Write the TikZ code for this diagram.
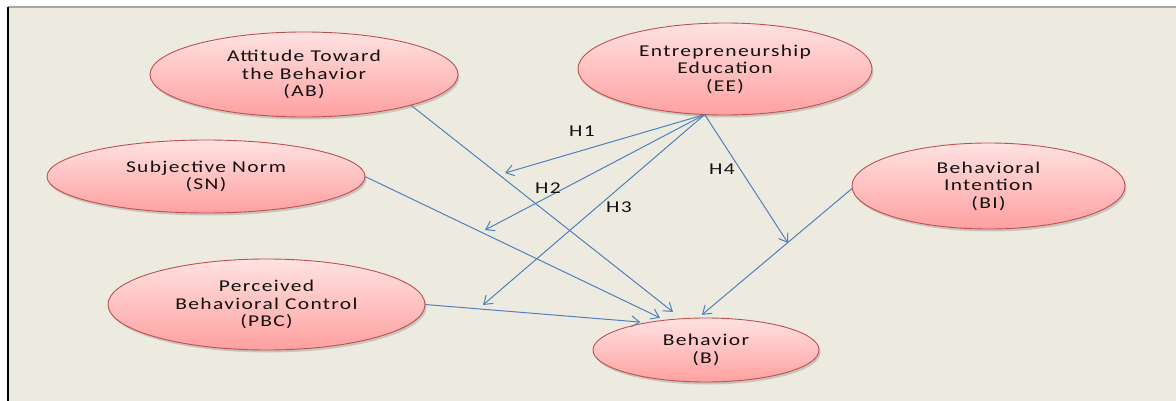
\documentclass[tikz,border=0pt]{standalone}
\usepackage{fontspec}
\setmainfont{Carlito}[FakeStretch=1.3, LetterSpace=8]
\usetikzlibrary{shapes.geometric,shadows,arrows.meta}
\definecolor{bgbeige}{HTML}{EDEBE0}
\definecolor{pinktop}{HTML}{FFE2E2}
\definecolor{pinkbot}{HTML}{FFA0A0}
\definecolor{ellborder}{HTML}{C0504D}
\definecolor{arrblue}{HTML}{4F81BD}
\definecolor{txt}{HTML}{111111}
\tikzset{
  ell/.style={ellipse, draw=ellborder, line width=0.9pt, top color=pinktop, bottom color=pinkbot,
    drop shadow={shadow xshift=1.5pt, shadow yshift=-2.5pt, opacity=0.35},
    inner sep=0pt, outer sep=0pt, align=center, text=txt, font=\fontsize{16.5}{17.5}\selectfont},
  arr/.style={draw=arrblue, line width=1pt, -{Straight Barb[length=8pt,width=11pt]}},
  lab/.style={font=\fontsize{16.5}{17.5}\selectfont, text=txt, inner sep=0pt}
}
\begin{document}
\begin{tikzpicture}[x=1pt,y=-1pt]
\useasboundingbox (0,0) rectangle (1176,401);
\fill[white] (0,0) rectangle (1176,401);
\fill[bgbeige] (8,7) rectangle (1176,401);
\draw[gray!70, line width=1.5pt] (8,7) -- (1176,7);
\draw[black, line width=1.6pt] (8,7) -- (8,401);

\node[ell, minimum width=308pt, minimum height=85pt] (AB) at (304,74.5) {Attitude Toward\\the Behavior\\(AB)};
\node[ell, minimum width=294pt, minimum height=92pt] (EE) at (725,69) {Entrepreneurship\\Education\\(EE)};
\node[ell, minimum width=318pt, minimum height=73pt] (SN) at (206,176.5) {Subjective Norm\\(SN)};
\node[ell, minimum width=273pt, minimum height=86pt] (BI) at (988.5,186) {Behavioral\\Intention\\(BI)};
\node[ell, minimum width=317pt, minimum height=91pt] (PBC) at (266.5,304.5) {Perceived\\Behavioral Control\\(PBC)};
\node[ell, minimum width=226pt, minimum height=64pt] (B) at (706,350) {Behavior\\(B)};

\coordinate (h1) at (505,173);
\coordinate (h2) at (485,230);
\coordinate (h3) at (483,305);
\coordinate (h4) at (788,243);

\draw[arr, shorten >=11pt] (AB.-16) -- (B.128);
\draw[arr, shorten >=5.5pt] (SN.-0.5) -- (B.144);
\draw[arr, shorten >=7pt] (PBC.east) -- (B.155);
\draw[arr, shorten >=5pt] (BI.181) -- (B.104);

\draw[arr] (EE.246) -- (h1);
\draw[arr] (EE.246) -- (h2);
\draw[arr] (EE.246) -- (h3);
\draw[arr] (EE.246) -- (h4);

\node[lab] (L1) at (582,131) {H1};
\node[lab] (L2) at (548,188) {H2};
\node[lab] (L3) at (619,207) {H3};
\node[lab] (L4) at (722,169) {H4};
\end{tikzpicture}
\end{document}
